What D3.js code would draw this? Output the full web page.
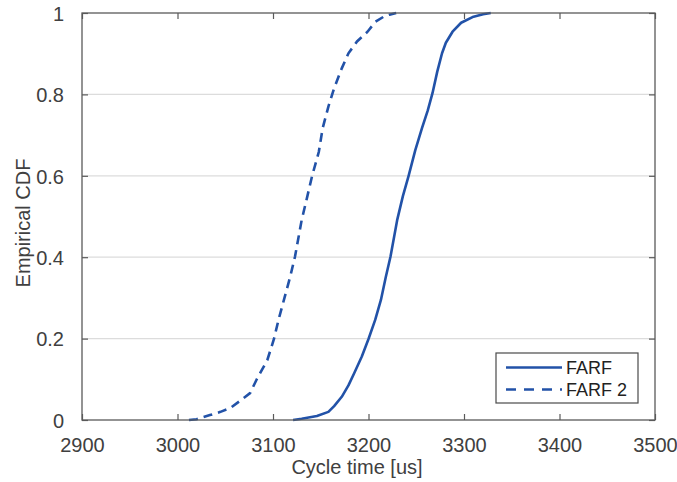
<!DOCTYPE html>
<html>
<head>
<meta charset="utf-8">
<script src="https://cdn.jsdelivr.net/npm/d3@7"></script>
<style>
  html, body { margin: 0; padding: 0; background: #fff; }
  svg { display: block; font-family: "Liberation Sans", Arial, Helvetica, sans-serif; }
</style>
</head>
<body>
<svg id="chart" width="677" height="482"></svg>
<script>
// ---- data ----
const seriesNames = ["FARF", "FARF 2"];
const farfX = [3121,3130,3146,3158,3164,3172,3179,3185,3193,3200,3207,3213,3218,3223,3230,3236,3242,3249,3256,3262,3267,3272,3277,3281,3288,3297,3310,3320,3328];
const farfY = [0,0.003,0.01,0.02,0.034,0.057,0.085,0.115,0.156,0.199,0.246,0.295,0.35,0.401,0.491,0.55,0.600,0.663,0.717,0.76,0.803,0.856,0.901,0.927,0.954,0.976,0.991,0.997,1.0];
const farf2X = [3012,3020,3034,3045,3055,3066,3076,3083,3094,3101,3106,3112,3118,3123,3130,3136,3141,3148,3152,3158,3164,3172,3179,3188,3199,3207,3216,3222,3229];
const farf2Y = [0,0.002,0.012,0.02,0.029,0.048,0.066,0.1,0.147,0.199,0.248,0.3,0.352,0.401,0.491,0.55,0.600,0.659,0.717,0.770,0.815,0.864,0.901,0.930,0.954,0.978,0.991,0.996,1.0];
const xTicks = [2900,3000,3100,3200,3300,3400,3500];
const yTicks = [0,0.2,0.4,0.6,0.8,1];
const xLabel = "Cycle time [us]";
const yLabel = "Empirical CDF";

// ---- layout ----
const svg = d3.select("#chart");
const L = 82, T = 13, R = 655, B = 420;
const x = d3.scaleLinear().domain([2900,3500]).range([L,R]);
const y = d3.scaleLinear().domain([0,1]).range([B,T]);
const axisColor = "#5a5a5a", textColor = "#404040", lineColor = "#2252a8";

// grid
svg.append("g").selectAll("line").data(yTicks.filter(d => d > 0 && d < 1)).join("line")
  .attr("x1", L).attr("x2", R).attr("y1", d => y(d)).attr("y2", d => y(d))
  .attr("stroke", "#dcdcdc").attr("stroke-width", 1.3);

// axes (ticks inward)
const tl = 6;
const gx = svg.append("g").attr("transform", `translate(0,${B})`)
  .call(d3.axisBottom(x).tickValues(xTicks).tickSize(-tl).tickPadding(tl + 12).tickFormat(d3.format("d")));
const gxt = svg.append("g").attr("transform", `translate(0,${T})`)
  .call(d3.axisTop(x).tickValues(xTicks).tickSize(-tl).tickFormat(""));
const gy = svg.append("g").attr("transform", `translate(${L},0)`)
  .call(d3.axisLeft(y).tickValues(yTicks).tickSize(-tl).tickPadding(tl + 12).tickFormat(d => d === 0 || d === 1 ? d3.format("d")(d) : d3.format(".1f")(d)));
const gyr = svg.append("g").attr("transform", `translate(${R},0)`)
  .call(d3.axisRight(y).tickValues(yTicks).tickSize(-tl).tickFormat(""));
[gx, gxt, gy, gyr].forEach(g => {
  g.selectAll(".domain").remove();
  g.selectAll(".tick line").attr("stroke", axisColor).attr("stroke-width", 1.2);
  g.selectAll("text").attr("fill", textColor).attr("font-size", 20).attr("font-family", null);
});
gy.selectAll("text").attr("dy", "0.36em");

// series
const line = d3.line().x(d => x(d[0])).y(d => y(d[1]));
const d1 = farfX.map((v, i) => [v, farfY[i]]);
const d2 = farf2X.map((v, i) => [v, farf2Y[i]]);
svg.append("path").datum(d1).attr("d", line).attr("fill", "none")
  .attr("stroke", lineColor).attr("stroke-width", 2.6).attr("stroke-linejoin", "round");
svg.append("path").datum(d2).attr("d", line).attr("fill", "none")
  .attr("stroke", lineColor).attr("stroke-width", 2.6).attr("stroke-dasharray", "9,6");

// box
svg.append("rect").attr("x", L).attr("y", T).attr("width", R - L).attr("height", B - T)
  .attr("fill", "none").attr("stroke", axisColor).attr("stroke-width", 1.3);

// labels
svg.append("text").attr("x", 357).attr("y", 474).attr("text-anchor", "middle")
  .attr("font-size", 20).attr("fill", textColor).text(xLabel);
svg.append("text").attr("transform", "translate(30,223) rotate(-90)").attr("text-anchor", "middle")
  .attr("font-size", 20).attr("fill", textColor).text(yLabel);

// legend
const lg = svg.append("g");
lg.append("rect").attr("x", 496).attr("y", 353).attr("width", 142).attr("height", 50)
  .attr("fill", "#fff").attr("stroke", "#4a4a4a").attr("stroke-width", 1.2);
const legendDash = [null, "10,8"];
seriesNames.forEach((name, i) => {
  const yy = 367.5 + i * 22;
  lg.append("line").attr("x1", 506).attr("x2", 562).attr("y1", yy).attr("y2", yy)
    .attr("stroke", lineColor).attr("stroke-width", 2.6).attr("stroke-dasharray", legendDash[i]);
  lg.append("text").attr("x", 566).attr("y", yy + 6.5).attr("font-size", 18)
    .attr("fill", "#222").text(name);
});
</script>
</body>
</html>
